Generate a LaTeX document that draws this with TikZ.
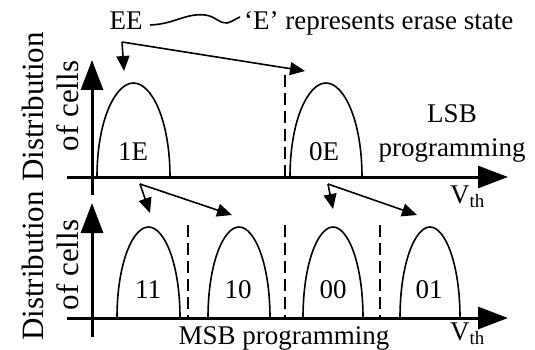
\documentclass[tikz,border=0pt]{standalone}
\usepackage{fontspec}
\setmainfont{Liberation Serif}
\usetikzlibrary{arrows.meta,positioning}

\begin{document}
\begin{tikzpicture}[
    x=1pt, y=-1pt,
    lbl/.style={font=\fontsize{27}{30}\selectfont, inner sep=0pt, anchor=base},
    ylbl/.style={lbl, font=\fontsize{31}{34}\selectfont, rotate=90},
    axis/.style={-{Triangle[length=30pt,width=22pt]}, line width=3pt},
    hump/.style={line width=1.6pt},
    divider/.style={dash pattern=on 12pt off 6pt, line width=2pt},
    arrow/.style={-{Triangle[length=15pt,width=13pt]}, line width=1.6pt}
]
\useasboundingbox (0,0) rectangle (535,350);

% Axes
\draw[axis] (67,177) -- (508,177);
\draw[axis] (92,195) -- (92,60);
\draw[axis] (67,318) -- (508,318);
\draw[axis] (92,337) -- (92,203);

% Distributions
\foreach \a/\b/\p/\q in {97/170/83/177, 290/362/83/177, 117/180/227/318, 208/270/227/318, 303/363/227/318, 400/460/227/318}
  \draw[hump] (\a,\q) .. controls (\a,{\q-0.6*(\q-\p)}) and ({(\a+\b)/2-0.25*(\b-\a)},\p) .. ({(\a+\b)/2},\p)
    .. controls ({(\a+\b)/2+0.25*(\b-\a)},\p) and (\b,{\q-0.6*(\q-\p)}) .. (\b,\q);

% Read levels
\foreach \x/\t/\b in {285/75/177, 188/225/318, 285/225/318, 380/225/318}
  \draw[divider] (\x,\t) -- (\x,\b);

% Labels
\node[lbl] (ee) at (126,30) {EE};
\node[lbl, anchor=base west] (note) at (244,30) {`E' represents erase state};
\draw[line width=1.6pt] (150,25) .. controls (175,24) and (185,13) .. (205,15)
  .. controls (215,16) and (220,24) .. (227,23) .. controls (232,22) and (235,19) .. (240,17);
\node[ylbl] (distup) at (43,107) {Distribution};
\node[ylbl] (cellsup) at (78,106) {of cells};
\node[ylbl] (distdown) at (43,266) {Distribution};
\node[ylbl] (cellsdown) at (78,265) {of cells};
\node[lbl] (s1E) at (133,160) {1E};
\node[lbl] (s0E) at (324,160) {0E};
\node[lbl] (lsb) at (452,123) {LSB};
\node[lbl] (lsbprog) at (452,157) {programming};
\node[lbl, anchor=base west] (vthup) at (450,203) {V\textsubscript{th}};
\node[lbl] (s11) at (148,298) {11};
\node[lbl] (s10) at (238,298) {10};
\node[lbl] (s00) at (333,298) {00};
\node[lbl] (s01) at (429,298) {01};
\node[lbl] (msb) at (284,344) {MSB programming};
\node[lbl, anchor=base west] (vthdown) at (450,340) {V\textsubscript{th}};

% Transitions
\coordinate (ecorner) at (122,42);
\coordinate (to1E) at (124,71);
\coordinate (to0E) at (305,71);
\coordinate (lcorner) at (140,184);
\coordinate (to11) at (150,213);
\coordinate (to10) at (232,215);
\coordinate (rcorner) at (328,184);
\coordinate (to00) at (333,209);
\coordinate (to01) at (417,215);
\draw[arrow] (ecorner) -- (to1E);
\draw[arrow] (ecorner) -- (to0E);
\draw[arrow] (lcorner) -- (to11);
\draw[arrow] (lcorner) -- (to10);
\draw[arrow] (rcorner) -- (to00);
\draw[arrow] (rcorner) -- (to01);

\end{tikzpicture}
\end{document}
